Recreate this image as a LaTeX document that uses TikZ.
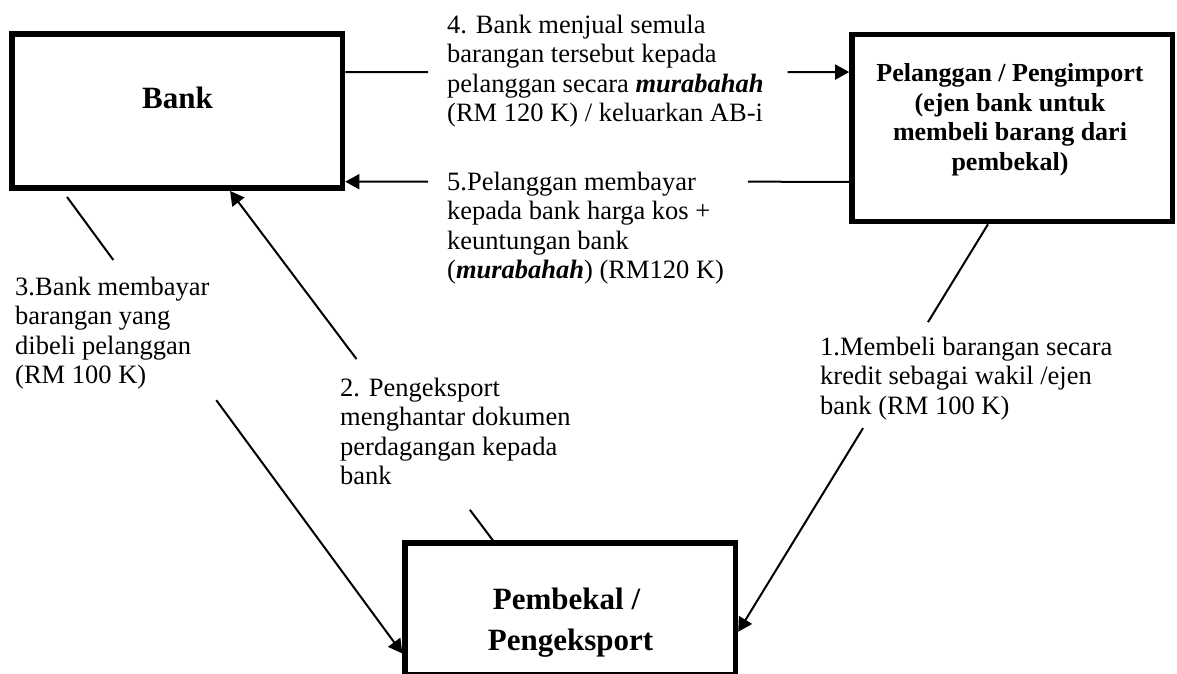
\documentclass[tikz,border=0pt]{standalone}
\usepackage{fontspec}
\setmainfont{Liberation Serif}
\usetikzlibrary{arrows.meta,calc}

\begin{document}
\begin{tikzpicture}[x=1pt,y=-1pt,
  box/.style={draw,line width=5.5pt,inner sep=0pt,outer sep=0pt},
  bigtitle/.style={font=\fontsize{31}{41}\selectfont\bfseries,inner sep=0pt,align=center,anchor=base},
  smalltitle/.style={font=\fontsize{26}{29.5}\selectfont\bfseries,inner sep=0pt,align=center,anchor=base},
  note/.style={font=\fontsize{26.5}{29.5}\selectfont,inner sep=0pt,align=left,anchor=base west},
  flow/.style={line width=2pt},
  tip/.style={-{Triangle[length=14pt,width=15pt]}}]

\useasboundingbox (0,0) rectangle (1177,673);
\fill[white] (0,0) rectangle (1177,673);
\clip (0,0) rectangle (1177,673);

% the three parties
\node[box,minimum width=330.7pt,minimum height=154pt] (bank) at (177.2,111.2) {};
\node[box,minimum width=320.5pt,minimum height=187.3pt] (cust) at (1012.2,127.9) {};
\node[box,minimum width=330.3pt,minimum height=131.8pt] (supp) at (570.3,609.1) {};

% titles (base anchor sits on the last line)
\node[bigtitle] (tbank) at (177.5,108) {Bank};
\node[smalltitle] (tcust) at (1010,170.2) {Pelanggan / Pengimport\\(ejen bank untuk\\membeli barang dari\\pembekal)};
\node[bigtitle] (tsupp) at (570.5,650) {Pembekal /\hspace*{8pt}\\Pengeksport};

% step descriptions
\node[note] (n4) at (447,121.5) {4. Bank menjual semula\\barangan tersebut kepada\\pelanggan secara \textbf{\textit{murabahah}}\\(RM 120 K) / keluarkan AB-i};
\node[note] (n5) at (447,278.5) {5.Pelanggan membayar\\kepada bank harga kos +\\keuntungan bank\\(\textbf{\textit{murabahah}}) (RM120 K)};
\node[note] (n3) at (15,383.5) {3.Bank membayar\\barangan yang\\dibeli pelanggan\\(RM 100 K)};
\node[note] (n2) at (340,484.5) {2. Pengeksport\\menghantar dokumen\\perdagangan kepada\\bank};
\node[note] (n1) at (820,414) {1.Membeli barangan secara\\kredit sebagai wakil /ejen\\bank (RM 100 K)};

% connector end points on the box borders
\coordinate (a4) at ($(bank.north east)+(2.75,37.8)$);
\coordinate (b4) at ($(cust.north west)+(-2.75,37.8)$);
\coordinate (a5) at ($(cust.north west)+(-2.75,147.5)$);
\coordinate (b5) at ($(bank.north east)+(2.75,147.5)$);
\coordinate (a3) at ($(bank.south west)+(55.2,8.8)$);
\coordinate (b3) at ($(supp.north west)+(-2.75,110.3)$);
\coordinate (a2) at ($(supp.north west)+(87.8,-2.75)$);
\coordinate (b2) at ($(bank.south west)+(218.2,2.75)$);
\coordinate (a1) at ($(cust.south west)+(136,2.75)$);
\coordinate (b1) at ($(supp.north east)+(2.75,88.6)$);

% each flow is broken where its description sits
\draw[flow] (a4) -- ($(a4)!0.1645!(b4)$);
\draw[flow,tip] ($(a4)!0.878!(b4)$) -- (b4);

\draw[flow] (a5) -- ($(a5)!0.201!(b5)$);
\draw[flow,tip] ($(a5)!0.8355!(b5)$) -- (b5);

\draw[flow] (a3) -- ($(a3)!0.138!(b3)$);
\draw[flow,tip] ($(a3)!0.445!(b3)$) -- (b3);

\draw[flow] (a2) -- ($(a2)!0.0877!(b2)$);
\draw[flow,tip] ($(a2)!0.519!(b2)$) -- (b2);

\draw[flow] (a1) -- ($(a1)!0.240!(b1)$);
\draw[flow,tip] ($(a1)!0.500!(b1)$) -- (b1);

\end{tikzpicture}
\end{document}
